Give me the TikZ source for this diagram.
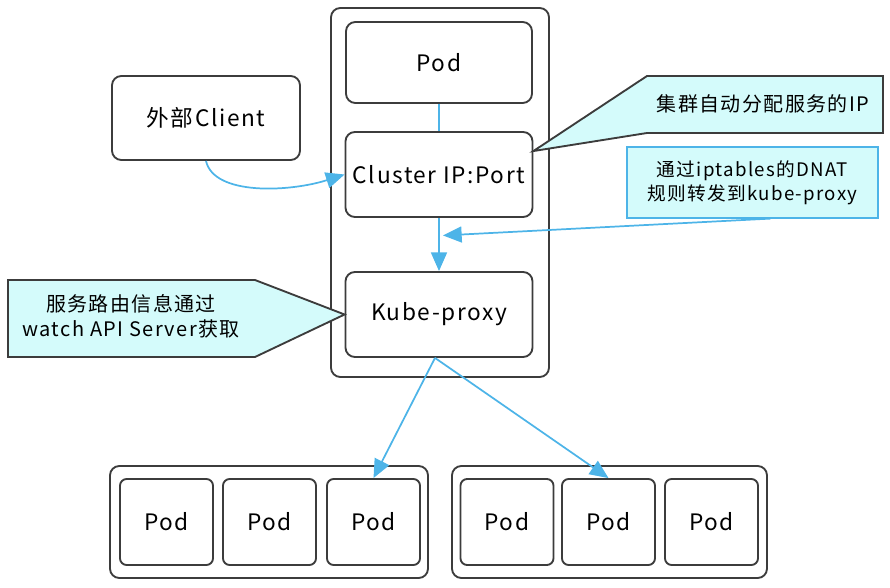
\documentclass[tikz,border=0pt]{standalone}
\usepackage{fontspec}
\setmainfont{Noto Sans CJK SC}[LetterSpace=7]
\usetikzlibrary{positioning,arrows.meta,calc}

\definecolor{linkblue}{HTML}{4DB4E8}
\definecolor{notefill}{HTML}{D4FBFB}
\definecolor{boxline}{HTML}{3C3C3C}

\begin{document}
\begin{tikzpicture}[x=0.75pt, y=-0.75pt,
    box/.style={draw=boxline, line width=1.4pt, rounded corners=7pt, font=\fontsize{17}{20}\selectfont},
    podbox/.style={box, rounded corners=5pt, minimum width=69.75pt, minimum height=64.5pt},
    note/.style={font=\fontsize{15}{19}\selectfont, align=center, inner sep=0pt},
    flow/.style={draw=linkblue, line width=1.3pt, -{Triangle[length=14pt, width=12pt]}}
]
\useasboundingbox (0,0) rectangle (890,588);

% Service box with its three parts
\node[box, minimum width=163.5pt, minimum height=276.75pt] (svc) at (440,192.5) {};
\node[box, minimum width=139.5pt, minimum height=60.75pt] (pod) at (439,62.5) {Pod};
\node[box, minimum width=140.25pt, minimum height=63.75pt] (cip) at (439,174.5) {Cluster IP:Port};
\node[box, minimum width=140.25pt, minimum height=63.75pt] (kp) at (439,314.5) {Kube-proxy};

% Client
\node[box, minimum width=141pt, minimum height=63pt] (client) at (206,118) {外部Client};

% Two groups of pods
\node[box, minimum width=238.5pt, minimum height=84pt] (grpa) at (269,522) {};
\node[box, minimum width=236.25pt, minimum height=84pt] (grpb) at (609.5,522) {};
\node[podbox] (pa1) at (166.5,522) {Pod};
\node[podbox] (pa2) at (269.5,522) {Pod};
\node[podbox] (pa3) at (373.5,522) {Pod};
\node[podbox] (pb1) at (507,522) {Pod};
\node[podbox] (pb2) at (608.5,522) {Pod};
\node[podbox] (pb3) at (711.5,522) {Pod};

% Notes
\filldraw[fill=notefill, draw=boxline, line width=1.4pt]
    (647,76) -- (883,76) -- (883,133) -- (647,133)
    -- ($(cip.north east)!0.23!(cip.south east)$) -- cycle;
\node[note] (ipnote) at (763,104) {集群自动分配服务的IP};

\node[note, font=\fontsize{14}{18}\selectfont, draw=linkblue, line width=0.9pt, fill=notefill,
      minimum width=188.25pt, minimum height=53.25pt] (dnat) at (752.5,182.5)
    {通过iptables的DNAT\\规则转发到kube-proxy};

\filldraw[fill=notefill, draw=boxline, line width=1.4pt]
    (8,280) -- (255,280) -- (kp.west) -- (255,357) -- (8,357) -- cycle;
\node[note] (watchnote) at (131,316) {服务路由信息通过\\watch API Server获取};

% Connectors
\draw[draw=linkblue, line width=1.3pt] (pod) -- (cip);
\draw[flow] (client.south) .. controls (214,196) and (290,192) .. (cip.west);
\draw[flow] (cip) -- (kp);
\coordinate (hit) at ($(cip.south)!0.33!(kp.north) + (4,0)$);
\draw[flow] (dnat.south) ++(18,0) -- (hit);
\draw[flow] (kp.south) ++(-4,0) -- (pa3.north);
\draw[flow] (kp.south) ++(-4,0) -- (pb2.north);
\end{tikzpicture}
\end{document}
